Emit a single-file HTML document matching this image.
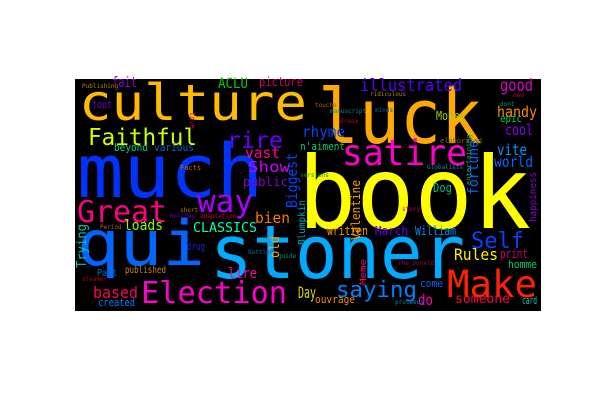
<!DOCTYPE html>
<html><head><meta charset="utf-8"><style>
html,body{margin:0;padding:0;background:#fff;width:600px;height:400px;overflow:hidden}
svg{display:block}
text{font-family:"DejaVu Sans Mono","Liberation Mono",monospace}
</style></head><body>
<svg width="600" height="400">
<rect x="75" y="79" width="466" height="232" fill="#000"/>
<g lengthAdjust="spacingAndGlyphs">
<text x="79" y="120" font-size="50" fill="#ffbb00" textLength="228" lengthAdjust="spacingAndGlyphs">culture</text>
<text x="318" y="143" font-size="76" fill="#ffaa00" textLength="164" lengthAdjust="spacingAndGlyphs">luck</text>
<text x="77" y="197" font-size="74" fill="#0033ff" textLength="186" lengthAdjust="spacingAndGlyphs">much</text>
<text x="298" y="228" font-size="100" fill="#ffff00" textLength="233" lengthAdjust="spacingAndGlyphs">book</text>
<text x="77" y="265" font-size="62" fill="#0066ff" textLength="128" lengthAdjust="spacingAndGlyphs">qui</text>
<text x="210" y="278" font-size="74" fill="#00aaff" textLength="255" lengthAdjust="spacingAndGlyphs">stoner</text>
<text x="342" y="165" font-size="36" fill="#ff00cc" textLength="125" lengthAdjust="spacingAndGlyphs">satire</text>
<text x="88" y="145" font-size="23" fill="#ccff00" textLength="109" lengthAdjust="spacingAndGlyphs">Faithful</text>
<text x="227" y="148" font-size="23" fill="#6600ff" textLength="56" lengthAdjust="spacingAndGlyphs">rire</text>
<text x="77" y="222" font-size="30" fill="#ff0080" textLength="90" lengthAdjust="spacingAndGlyphs">Great</text>
<text x="197" y="212" font-size="31" fill="#aa00ff" textLength="56" lengthAdjust="spacingAndGlyphs">way</text>
<text x="141" y="303" font-size="30" fill="#ff00cc" textLength="146" lengthAdjust="spacingAndGlyphs">Election</text>
<text x="447" y="297" font-size="37" fill="#ff2200" textLength="90" lengthAdjust="spacingAndGlyphs">Make</text>
<text x="471" y="248" font-size="22" fill="#0044ff" textLength="53" lengthAdjust="spacingAndGlyphs">Self</text>
<text x="336" y="297" font-size="22" fill="#0080ff" textLength="81" lengthAdjust="spacingAndGlyphs">saying</text>
<text x="360" y="91" font-size="17" fill="#5500ff" textLength="102" lengthAdjust="spacingAndGlyphs">illustrated</text>
<text x="500" y="91" font-size="17" fill="#dd00cc" textLength="33" lengthAdjust="spacingAndGlyphs">good</text>
<text x="497" y="117" font-size="15" fill="#ff8800" textLength="40" lengthAdjust="spacingAndGlyphs">handy</text>
<text x="505" y="135" font-size="15" fill="#8800ee" textLength="28" lengthAdjust="spacingAndGlyphs">cool</text>
<text x="497" y="155" font-size="15" fill="#0099ff" textLength="30" lengthAdjust="spacingAndGlyphs">vite</text>
<text x="494" y="167" font-size="15" fill="#0066ff" textLength="39" lengthAdjust="spacingAndGlyphs">world</text>
<text x="302" y="137" font-size="15" fill="#0044ff" textLength="43" lengthAdjust="spacingAndGlyphs">rhyme</text>
<text x="245" y="158" font-size="15" fill="#ff0099" textLength="35" lengthAdjust="spacingAndGlyphs">vast</text>
<text x="248" y="172" font-size="15" fill="#cc00ff" textLength="42" lengthAdjust="spacingAndGlyphs">Show</text>
<text x="243" y="186" font-size="12" fill="#8800cc" textLength="45" lengthAdjust="spacingAndGlyphs">public</text>
<text x="255" y="223" font-size="15" fill="#ff7700" textLength="35" lengthAdjust="spacingAndGlyphs">bien</text>
<text x="193" y="232" font-size="13" fill="#00ffaa" textLength="64" lengthAdjust="spacingAndGlyphs">CLASSICS</text>
<text x="124" y="230" font-size="14" fill="#88ff00" textLength="39" lengthAdjust="spacingAndGlyphs">loads</text>
<text x="93" y="298" font-size="16" fill="#ff0055" textLength="45" lengthAdjust="spacingAndGlyphs">based</text>
<text x="98" y="306" font-size="11" fill="#0077ff" textLength="37" lengthAdjust="spacingAndGlyphs">created</text>
<text x="228" y="278" font-size="14" fill="#ff0099" textLength="29" lengthAdjust="spacingAndGlyphs">lire</text>
<text x="298" y="298" font-size="16" fill="#dddd00" textLength="18" lengthAdjust="spacingAndGlyphs">Day</text>
<text x="327" y="235" font-size="12" fill="#ff9900" textLength="41" lengthAdjust="spacingAndGlyphs">written</text>
<text x="375" y="235" font-size="12" fill="#6600ff" textLength="33" lengthAdjust="spacingAndGlyphs">March</text>
<text x="415" y="235" font-size="12" fill="#0088ff" textLength="41" lengthAdjust="spacingAndGlyphs">William</text>
<text x="454" y="260" font-size="16" fill="#ffee00" textLength="44" lengthAdjust="spacingAndGlyphs">Rules</text>
<text x="500" y="258" font-size="12" fill="#cc0066" textLength="28" lengthAdjust="spacingAndGlyphs">print</text>
<text x="508" y="268" font-size="11" fill="#00cc66" textLength="29" lengthAdjust="spacingAndGlyphs">homme</text>
<text x="455" y="303" font-size="13" fill="#ff0044" textLength="55" lengthAdjust="spacingAndGlyphs">someone</text>
<text x="522" y="304" font-size="11" fill="#00cccc" textLength="15" lengthAdjust="spacingAndGlyphs">card</text>
<text x="418" y="305" font-size="15" fill="#ff00aa" textLength="15" lengthAdjust="spacingAndGlyphs">do</text>
<text x="420" y="287" font-size="11" fill="#0066ff" textLength="23" lengthAdjust="spacingAndGlyphs">come</text>
<text x="315" y="303" font-size="11" fill="#ff8800" textLength="40" lengthAdjust="spacingAndGlyphs">ouvrage</text>
<text x="218" y="88" font-size="14" fill="#00cc00" textLength="30" lengthAdjust="spacingAndGlyphs">ACLU</text>
<text x="259" y="86" font-size="12" fill="#cc0066" textLength="44" lengthAdjust="spacingAndGlyphs">picture</text>
<text x="112" y="87" font-size="14" fill="#8800cc" textLength="25" lengthAdjust="spacingAndGlyphs">fait</text>
<text x="92" y="108" font-size="11" fill="#6600cc" textLength="20" lengthAdjust="spacingAndGlyphs">tout</text>
<text x="114" y="151" font-size="11" fill="#00cc88" textLength="34" lengthAdjust="spacingAndGlyphs">beyond</text>
<text x="154" y="151" font-size="11" fill="#0066cc" textLength="40" lengthAdjust="spacingAndGlyphs">various</text>
<text x="436" y="120" font-size="12" fill="#aacc00" textLength="30" lengthAdjust="spacingAndGlyphs">Money</text>
<text x="500" y="122" font-size="11" fill="#00cc44" textLength="22" lengthAdjust="spacingAndGlyphs">epic</text>
<text x="300" y="150" font-size="11" fill="#00cc66" textLength="45" lengthAdjust="spacingAndGlyphs">n'aiment</text>
<text x="433" y="192" font-size="12" fill="#00bb88" textLength="19" lengthAdjust="spacingAndGlyphs">Dog</text>
<text x="97" y="276" font-size="10" fill="#0066cc" textLength="20" lengthAdjust="spacingAndGlyphs">Part</text>
<text x="125" y="273" font-size="10" fill="#cc8800" textLength="41" lengthAdjust="spacingAndGlyphs">published</text>
<text x="187" y="250" font-size="11" fill="#2222cc" textLength="18" lengthAdjust="spacingAndGlyphs">drug</text>
<text x="180" y="170" font-size="7" fill="#cc6600">Facts</text>
<text x="440" y="143" font-size="7" fill="#886600">elaborated</text>
<text x="82" y="88" font-size="6" fill="#aa8800">Publishing</text>
<text x="330" y="113" font-size="6" fill="#0088aa">manuscript</text>
<text x="300" y="177" font-size="6" fill="#009900">versions</text>
<text x="427" y="169" font-size="6" fill="#009999">Globalists</text>
<text x="402" y="211" font-size="6" fill="#cc0066">story</text>
<text x="395" y="304" font-size="6" fill="#0088aa">proceeds</text>
<text x="398" y="265" font-size="6" fill="#aa0044">The_Donald</text>
<text x="180" y="212" font-size="6" fill="#aa7700">short</text>
<text x="170" y="218" font-size="6" fill="#6600cc">Holiday</text>
<text x="200" y="218" font-size="6" fill="#cc0033">adaptation</text>
<text x="82" y="281" font-size="6" fill="#aa0000">steamer</text>
<text x="100" y="229" font-size="6" fill="#aa6600">Period</text>
<text x="248" y="254" font-size="6" fill="#0066aa">battled</text>
<text x="278" y="258" font-size="6" fill="#009966">guide</text>
<text x="315" y="107" font-size="6" fill="#aa6600">touche</text>
<text x="375" y="112" font-size="6" fill="#0066aa">minds</text>
<text x="370" y="96" font-size="6" fill="#aa8800">ridiculous</text>
<text x="500" y="106" font-size="6" fill="#009966">dont</text>
<text x="513" y="97" font-size="6" fill="#cc0033">new</text>
<text x="340" y="123" font-size="6" fill="#aa0033">dream</text>
<text transform="translate(86,268) rotate(-90)" font-size="13" fill="#00ccaa" textLength="44" lengthAdjust="spacingAndGlyphs">Trying</text>
<text transform="translate(478,195) rotate(-90)" font-size="14" fill="#0066ff" textLength="55" lengthAdjust="spacingAndGlyphs">fortune</text>
<text transform="translate(297,208) rotate(-90)" font-size="15" fill="#0044ff" textLength="55" lengthAdjust="spacingAndGlyphs">Biggest</text>
<text transform="translate(279,258) rotate(-90)" font-size="13" fill="#ff9900" textLength="22" lengthAdjust="spacingAndGlyphs">old</text>
<text transform="translate(360,240) rotate(-90)" font-size="12" fill="#ff9900" textLength="60" lengthAdjust="spacingAndGlyphs">Valentine</text>
<text transform="translate(305,245) rotate(-90)" font-size="10" fill="#00aacc" textLength="45" lengthAdjust="spacingAndGlyphs">Blumpkin</text>
<text transform="translate(536,222) rotate(-90)" font-size="10" fill="#8800cc" textLength="50" lengthAdjust="spacingAndGlyphs">happiness</text>
<text transform="translate(366,285) rotate(-90)" font-size="9" fill="#ff0077" textLength="26" lengthAdjust="spacingAndGlyphs">Meme</text>
<text transform="translate(190,112) rotate(90)" font-size="7" fill="#cc0066">love</text>
<text transform="translate(471,185) rotate(-90)" font-size="7" fill="#00aa66">entertaining</text>
</g>
</svg>
</body></html>
